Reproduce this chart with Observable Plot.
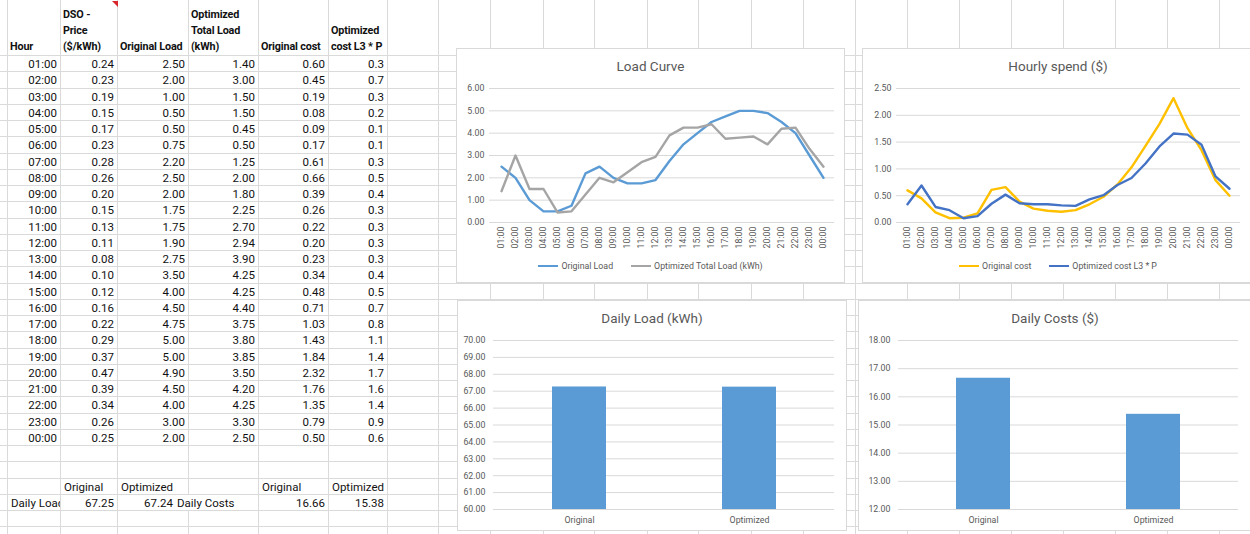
<!DOCTYPE html>
<html>
<head>
<meta charset="utf-8">
<script src="https://cdn.jsdelivr.net/npm/d3@7"></script>
<script src="https://cdn.jsdelivr.net/npm/@observablehq/plot@0.6"></script>
<style>
  html, body { margin: 0; padding: 0; background: #fff; }
  #sheet { position: relative; width: 1250px; height: 534px; overflow: hidden; background: #fff; font-family: Roboto, "Liberation Sans", sans-serif; }
  .vl { position: absolute; top: 0; height: 534px; width: 1px; background: #dadada; }
  .hl { position: absolute; left: 0; width: 1250px; height: 1px; background: #dadada; }
  .cell { position: absolute; box-sizing: border-box; padding: 1px 3px 0 3px; font-size: 11.5px; line-height: 15.25px; color: #111; white-space: nowrap; overflow: hidden; z-index: 1; }
  .head { font-weight: 700; font-size: 10.8px; letter-spacing: -0.15px; display: flex; flex-direction: column; justify-content: flex-end; padding: 0 1px 0 2px; line-height: 16px; }
  .comment { position: absolute; left: 112px; top: 1px; width: 0; height: 0; border-top: 6px solid #d9262c; border-left: 6px solid transparent; z-index: 2; }
  .chart { position: absolute; box-sizing: border-box; background: #fff; border: 1px solid #d9d9d9; z-index: 3; overflow: hidden; }
  .chart .title { text-align: center; color: #595959; font-size: 13.5px; }
  .legend { display: flex; justify-content: center; align-items: center; gap: 18px; color: #595959; font-size: 8.8px; height: 24px; }
  .legend .item { display: flex; align-items: center; gap: 3px; }
  .legend .swatch { width: 20px; height: 2.5px; }
</style>
</head>
<body>
<div id="sheet"></div>
<script>
// Hourly table
const hours = ["01:00","02:00","03:00","04:00","05:00","06:00","07:00","08:00","09:00","10:00","11:00","12:00",
               "13:00","14:00","15:00","16:00","17:00","18:00","19:00","20:00","21:00","22:00","23:00","00:00"];
const price = [0.24,0.23,0.19,0.15,0.17,0.23,0.28,0.26,0.20,0.15,0.13,0.11,0.08,0.10,0.12,0.16,0.22,0.29,0.37,0.47,0.39,0.34,0.26,0.25];
const originalLoad = [2.50,2.00,1.00,0.50,0.50,0.75,2.20,2.50,2.00,1.75,1.75,1.90,2.75,3.50,4.00,4.50,4.75,5.00,5.00,4.90,4.50,4.00,3.00,2.00];
const optimizedLoad = [1.40,3.00,1.50,1.50,0.45,0.50,1.25,2.00,1.80,2.25,2.70,2.94,3.90,4.25,4.25,4.40,3.75,3.80,3.85,3.50,4.20,4.25,3.30,2.50];
const originalCost = [0.60,0.45,0.19,0.08,0.09,0.17,0.61,0.66,0.39,0.26,0.22,0.20,0.23,0.34,0.48,0.71,1.03,1.43,1.84,2.32,1.76,1.35,0.79,0.50];
const optimizedCost = [0.34,0.69,0.29,0.23,0.08,0.12,0.35,0.52,0.36,0.34,0.34,0.32,0.31,0.43,0.51,0.70,0.83,1.10,1.42,1.66,1.64,1.45,0.86,0.63];

// Daily totals
const scenarios = ["Original", "Optimized"];
const dailyLoad = [67.25, 67.24];
const dailyCost = [16.66, 15.38];

// Axis ticks
const loadTicks = [0, 1, 2, 3, 4, 5, 6];
const spendTicks = [0, 0.5, 1, 1.5, 2, 2.5];
const dailyLoadTicks = [60, 61, 62, 63, 64, 65, 66, 67, 68, 69, 70];
const dailyCostTicks = [12, 13, 14, 15, 16, 17, 18];

// Column headers
const headers = [["Hour"], ["DSO -", "Price", "($/kWh)"], ["Original Load"], ["Optimized", "Total Load", "(kWh)"], ["Original cost"], ["Optimized", "cost L3 * P"]];

const sheet = document.getElementById("sheet");

// ---- worksheet grid ----
const colEdges = [7, 60, 117, 188, 258, 328, 387, 438, 490, 543, 594, 647, 698, 751, 803, 855, 907, 959, 1011, 1063, 1115, 1167, 1219];
const rowTop = 55, rowH = 16.25;

for (const x of colEdges) {
  const d = document.createElement("div");
  d.className = "vl"; d.style.left = x + "px";
  sheet.appendChild(d);
}
for (let k = 0; rowTop + k * rowH < 534; k++) {
  const d = document.createElement("div");
  d.className = "hl"; d.style.top = Math.round(rowTop + k * rowH) + "px";
  sheet.appendChild(d);
}

function cell(text, col, row, align, extra = {}) {
  const d = document.createElement("div");
  d.className = "cell";
  const l = colEdges[col - 1] + 1, r = colEdges[col];
  d.style.left = l + "px";
  d.style.width = (r - l) + "px";
  d.style.top = (rowTop + row * rowH + 1) + "px";
  d.style.height = (rowH - 1) + "px";
  d.style.textAlign = align;
  Object.assign(d.style, extra);
  d.textContent = text;
  sheet.appendChild(d);
  return d;
}

// header row
headers.forEach((lines, i) => {
  const d = document.createElement("div");
  d.className = "cell head";
  const l = colEdges[i] + 1, r = colEdges[i + 1];
  d.style.left = l + "px";
  d.style.width = (r - l) + "px";
  d.style.top = "0px";
  d.style.height = rowTop + "px";
  for (const t of lines) {
    const s = document.createElement("div");
    s.textContent = t;
    d.appendChild(s);
  }
  sheet.appendChild(d);
});
const tri = document.createElement("div");
tri.className = "comment";
sheet.appendChild(tri);

// hourly rows
hours.forEach((h, i) => {
  cell(h, 1, i, "right");
  cell(price[i].toFixed(2), 2, i, "right");
  cell(originalLoad[i].toFixed(2), 3, i, "right");
  cell(optimizedLoad[i].toFixed(2), 4, i, "right");
  cell(originalCost[i].toFixed(2), 5, i, "right");
  cell(optimizedCost[i].toFixed(1), 6, i, "right");
});

// summary rows
cell(scenarios[0], 2, 26, "left");
cell(scenarios[1], 3, 26, "left");
cell(scenarios[0], 5, 26, "left");
cell(scenarios[1], 6, 26, "left");
cell("Daily Load", 1, 27, "left", {paddingLeft: "3px"});
cell(dailyLoad[0].toFixed(2), 2, 27, "right");
cell(dailyLoad[1].toFixed(2), 3, 27, "right", {paddingRight: "15px"});
cell("Daily Costs", 4, 27, "left", {left: "176px", width: "80px", background: "#fff", paddingLeft: "1px"});
cell(dailyCost[0].toFixed(2), 5, 27, "right");
cell(dailyCost[1].toFixed(2), 6, 27, "right");

// ---- charts ----
function box(left, top, width, height) {
  const d = document.createElement("div");
  d.className = "chart";
  Object.assign(d.style, {left: left + "px", top: top + "px", width: width + "px", height: height + "px"});
  sheet.appendChild(d);
  return d;
}
function titleDiv(text, h) {
  const t = document.createElement("div");
  t.className = "title";
  t.style.height = h + "px";
  t.style.lineHeight = h + "px";
  t.textContent = text;
  return t;
}
function legendDiv(series) {
  const lg = document.createElement("div");
  lg.className = "legend";
  for (const s of series) {
    const it = document.createElement("div");
    it.className = "item";
    const sw = document.createElement("span");
    sw.className = "swatch";
    sw.style.background = s.color;
    const tx = document.createElement("span");
    tx.textContent = s.name;
    it.appendChild(sw); it.appendChild(tx);
    lg.appendChild(it);
  }
  return lg;
}
const baseStyle = {fontFamily: "Roboto, sans-serif", fontSize: "8.8px", color: "#595959", background: "transparent", overflow: "visible"};

function lineChart({left, top, width, title, series, ticks, marginLeft, marginRight}) {
  const b = box(left, top, width, 235);
  b.appendChild(titleDiv(title, 35));
  const marks = [
    Plot.gridY(ticks, {stroke: "#d9d9d9", strokeOpacity: 1}),
    Plot.axisY(ticks, {tickSize: 0, tickPadding: 5, tickFormat: d3.format(".2f"), label: null}),
    Plot.axisX({tickSize: 0, tickPadding: 4, tickRotate: -90, label: null})
  ];
  for (const s of series) {
    const rows = hours.map((h, i) => ({hour: h, value: s.values[i]}));
    marks.push(Plot.line(rows, {x: "hour", y: "value", stroke: s.color, strokeWidth: 2.4, strokeLinejoin: "round", strokeLinecap: "round"}));
  }
  const p = Plot.plot({
    width: width - 2, height: 170,
    marginTop: 4, marginBottom: 32, marginLeft, marginRight,
    style: baseStyle,
    x: {type: "point", domain: hours, padding: 0.5},
    y: {domain: [ticks[0], ticks[ticks.length - 1]]},
    marks
  });
  b.appendChild(p);
  b.appendChild(legendDiv(series));
}

function barChart({left, top, width, title, values, ticks, marginLeft, marginRight}) {
  const b = box(left, top, width, 231);
  b.appendChild(titleDiv(title, 34));
  const rows = scenarios.map((s, i) => ({scenario: s, value: values[i]}));
  const p = Plot.plot({
    width: width - 2, height: 194,
    marginTop: 5, marginBottom: 20, marginLeft, marginRight,
    style: baseStyle,
    x: {domain: scenarios, paddingInner: 0.685, paddingOuter: 0.3425},
    y: {domain: [ticks[0], ticks[ticks.length - 1]]},
    marks: [
      Plot.gridY(ticks, {stroke: "#d9d9d9", strokeOpacity: 1}),
      Plot.axisY(ticks, {tickSize: 0, tickPadding: 8, tickFormat: d3.format(".2f"), label: null}),
      Plot.axisX({tickSize: 0, tickPadding: 7, label: null}),
      Plot.barY(rows, {x: "scenario", y: "value", fill: "#5B9BD5", clip: true})
    ]
  });
  b.appendChild(p);
}

lineChart({
  left: 456, top: 48, width: 389, title: "Load Curve", ticks: loadTicks,
  marginLeft: 32, marginRight: 10,
  series: [
    {name: "Original Load", values: originalLoad, color: "#5B9BD5"},
    {name: "Optimized Total Load (kWh)", values: optimizedLoad, color: "#A5A5A5"}
  ]
});
lineChart({
  left: 862, top: 48, width: 392, title: "Hourly spend ($)", ticks: spendTicks,
  marginLeft: 33, marginRight: 13,
  series: [
    {name: "Original cost", values: originalCost, color: "#FFC000"},
    {name: "Optimized cost L3 * P", values: optimizedCost, color: "#4472C4"}
  ]
});
barChart({
  left: 457, top: 300, width: 390, title: "Daily Load (kWh)", values: dailyLoad, ticks: dailyLoadTicks,
  marginLeft: 35, marginRight: 12
});
barChart({
  left: 858, top: 300, width: 394, title: "Daily Costs ($)", values: dailyCost, ticks: dailyCostTicks,
  marginLeft: 39, marginRight: 13
});
</script>
</body>
</html>
